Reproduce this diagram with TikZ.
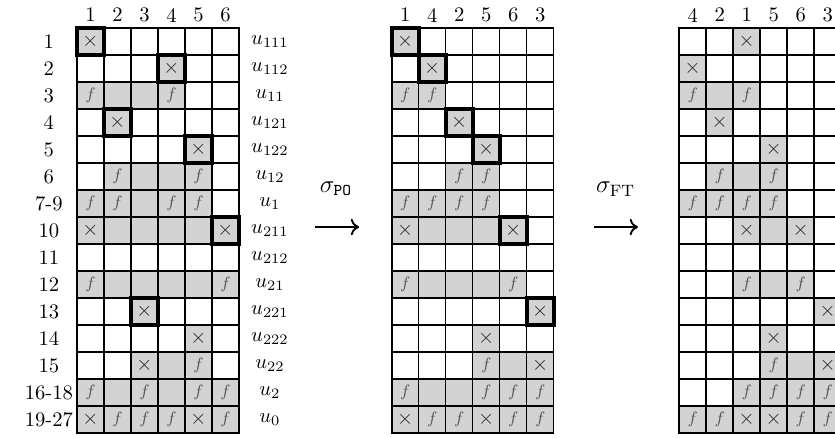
\documentclass[tikz,border=0pt]{standalone}
\usepackage{amssymb,amsmath}
\usetikzlibrary{arrows.meta}

\definecolor{cellgray}{RGB}{211,211,211}

% one 6x15 pattern: #1 name, #2 column labels, #3 rows
\newcommand{\matgrid}[3]{%
  \foreach \lab [count=\k] in {#2}
    \node (#1h\k) at (\k-0.5,0.48) {\lab};
  \foreach \row [count=\r] in {#3}
    \foreach \c [count=\k] in \row
      \pic (#1\r-\k) at (\k-0.5,0.5-\r) {cell\c};
  \foreach \i in {1,...,5}
    \draw[gridline] (\i,0) -- (\i,-15);
  \foreach \j in {1,...,14}
    \draw[gridline] (0,-\j) -- (6,-\j);
  \draw[gridline] (0,0) rectangle (6,-15);
  \foreach \row [count=\r] in {#3}
    \foreach \c [count=\k] in \row
      {\if b\c \draw[pivot] (\k-1,1-\r) rectangle (\k,-\r);\fi}
}

\begin{document}
\begin{tikzpicture}[x=0.46cm,y=0.46cm,
  gridline/.style={black,line width=0.75pt},
  pivot/.style={black,line width=2pt},
  shade/.style={fill=cellgray},
  fmark/.style={black!65,font=\footnotesize},
  xmark/.style={black!85},
  perm/.style={anchor=base,font=\large},
  flow/.style={-{Computer Modern Rightarrow[length=4pt,width=8pt]},line width=0.9pt},
  cello/.pic={\coordinate (-c) at (0,0);},
  cellg/.pic={\fill[shade] (-0.5,-0.5) rectangle (0.5,0.5);},
  cellf/.pic={\fill[shade] (-0.5,-0.5) rectangle (0.5,0.5);
    \node[fmark] (-t) at (0,0) {$f$};},
  cellx/.pic={\fill[shade] (-0.5,-0.5) rectangle (0.5,0.5);
    \node[xmark] (-t) at (0,0) {$\times$};},
  cellb/.pic={\fill[shade] (-0.5,-0.5) rectangle (0.5,0.5);
    \node[xmark] (-t) at (0,0) {$\times$};}]
  \useasboundingbox (0,0) rectangle (30.93,-16.22);

  % original order
  \begin{scope}[shift={(2.85,-1.04)}]
    \matgrid{A}{1,2,3,4,5,6}{{b,o,o,o,o,o},{o,o,o,b,o,o},{f,g,g,f,o,o},
      {o,b,o,o,o,o},{o,o,o,o,b,o},{o,f,g,g,f,o},{f,f,g,f,f,o},
      {x,g,g,g,g,b},{o,o,o,o,o,o},{f,g,g,g,g,f},{o,o,b,o,o,o},
      {o,o,o,o,x,o},{o,o,x,g,f,o},{f,g,f,g,f,f},{x,f,f,f,x,f}}
    \foreach \lab [count=\r] in {1,2,3,4,5,6,7-9,10,11,12,13,14,15,16-18,19-27}
      \node (r\r) at (-1.04,0.5-\r) {\lab};
    \foreach \s [count=\r] in {111,112,11,121,122,12,1,211,212,21,221,222,22,2,0}
      \node (u\r) at (7.15,0.5-\r) {$u_{\s}$};
  \end{scope}

  % first permutation
  \node[perm] (po) at (12.45,-7.12) {$\sigma_{\mathtt{PO}}$};
  \coordinate (po1) at (11.67,-8.41);
  \coordinate (po2) at (13.3,-8.41);
  \draw[flow] (po1) -- (po2);

  \begin{scope}[shift={(14.51,-1.04)}]
    \matgrid{B}{1,4,2,5,6,3}{{b,o,o,o,o,o},{o,b,o,o,o,o},{f,f,o,o,o,o},
      {o,o,b,o,o,o},{o,o,o,b,o,o},{o,o,f,f,o,o},{f,f,f,f,o,o},
      {x,g,g,g,b,o},{o,o,o,o,o,o},{f,g,g,g,f,o},{o,o,o,o,o,b},
      {o,o,o,x,o,o},{o,o,o,f,g,x},{f,g,g,f,f,f},{x,f,f,x,f,f}}
  \end{scope}

  % second permutation
  \node[perm] (ft) at (22.8,-7.14) {$\sigma_{\mathrm{FT}}$};
  \coordinate (ft1) at (22.0,-8.41);
  \coordinate (ft2) at (23.63,-8.41);
  \draw[flow] (ft1) -- (ft2);

  \begin{scope}[shift={(25.16,-1.04)}]
    \matgrid{C}{4,2,1,5,6,3}{{o,o,x,o,o,o},{x,o,o,o,o,o},{f,g,f,o,o,o},
      {o,x,o,o,o,o},{o,o,o,x,o,o},{o,f,g,f,o,o},{f,f,f,f,o,o},
      {o,o,x,g,x,o},{o,o,o,o,o,o},{o,o,f,g,f,o},{o,o,o,o,o,x},
      {o,o,o,x,o,o},{o,o,o,f,g,x},{o,o,f,f,f,f},{f,f,x,x,f,f}}
  \end{scope}
\end{tikzpicture}
\end{document}
